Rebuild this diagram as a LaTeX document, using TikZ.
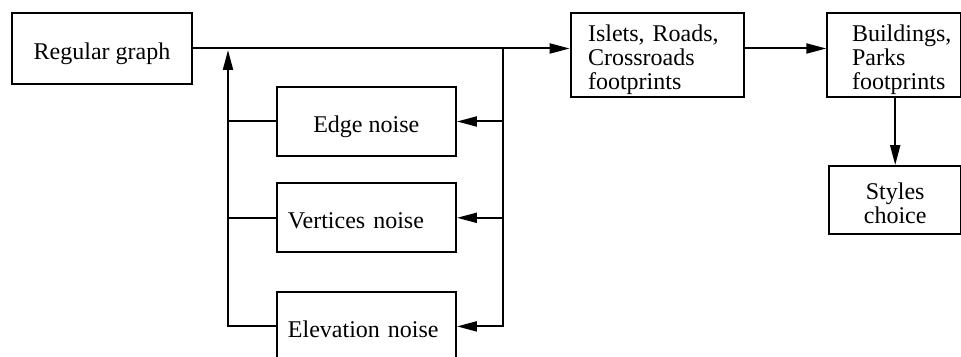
\documentclass[tikz,border=0pt]{standalone}
\usepackage{fontspec}
\setmainfont{Liberation Serif}
\usetikzlibrary{arrows.meta}
\tikzset{
  box/.style={draw, line width=1pt, rectangle, inner ysep=0pt,
    font=\fontsize{12pt}{12pt}\selectfont},
  onel/.style={box, text height=11pt, text depth=0pt},
  arr/.style={line width=1pt, -{Triangle[length=10pt,width=5pt]}},
  ln/.style={line width=1pt},
}
\begin{document}
\begin{tikzpicture}[x=0.5pt,y=-0.5pt]
\useasboundingbox (0,0) rectangle (961,357);
\clip (0,0) rectangle (961,357);
\node[onel, minimum width=90pt, minimum height=35.75pt] (reg) at (102,48.5) {Regular graph};
\node[onel, minimum width=89.65pt, minimum height=34.7pt] (edge) at (366.3,121.5) {Edge noise};
\node[onel, minimum width=89.65pt, minimum height=34.7pt, text width=78.35pt, inner xsep=5.65pt, align=left] (vert) at (366.3,217.8) {Vertices noise};
\node[onel, minimum width=89.65pt, minimum height=34.7pt, text width=78.35pt, inner xsep=5.65pt, align=left] (elev) at (366.3,326.4) {Elevation noise};
\node[box, minimum width=86.65pt, minimum height=42pt, text width=69.3pt, inner xsep=8.65pt, align=left] (isl) at (657.3,55) {\rule{0pt}{13.2pt}Islets, Roads,\\Crossroads\\footprints};
\node[box, minimum width=66.7pt, minimum height=42pt, text width=42pt, inner xsep=12.35pt, align=left] (bld) at (894,55) {\rule{0pt}{13.2pt}Buildings,\\Parks\\footprints};
\node[box, minimum width=65.85pt, minimum height=34.15pt, text width=50pt, align=center] (sty) at (895.2,200.2) {\rule{0pt}{11.2pt}Styles\\choice};
\coordinate (rb) at (503,48.5);
\coordinate (lt) at (228,48.5);
% main flow
\draw[arr] (reg.east) -- (reg.east -| isl.west);
\draw[arr] (isl.east |- reg.east) -- (bld.west |- reg.east);
\draw[arr] (sty.north |- bld.south) -- (sty.north);
% right feedback line with arrows into noise boxes
\draw[arr] (rb) |- (elev.east);
\draw[arr] (rb |- edge.east) -- (edge.east);
\draw[arr] (rb |- vert.east) -- (vert.east);
% left return line up to main line
\draw[arr] (elev.west) -| ([yshift=-0.75pt]lt);
\draw[ln] (edge.west) -- (edge.west -| lt);
\draw[ln] (vert.west) -- (vert.west -| lt);
\end{tikzpicture}
\end{document}
